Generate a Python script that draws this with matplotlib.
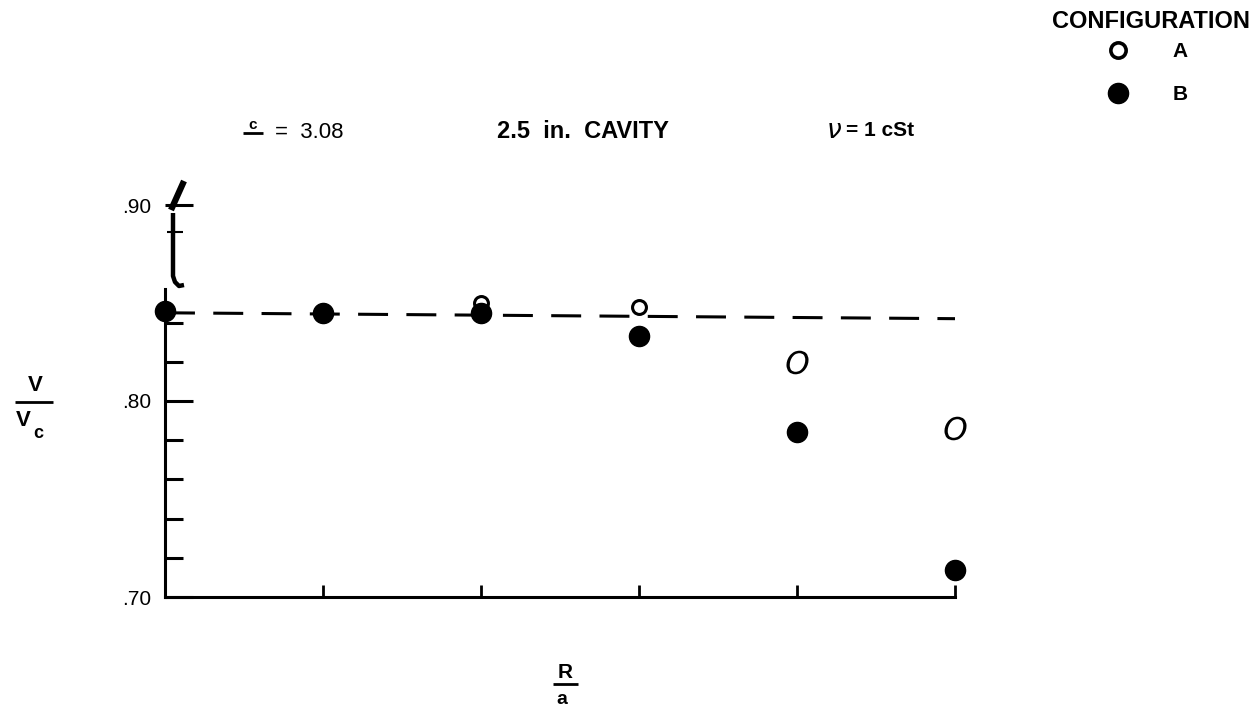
import numpy as np
import matplotlib.pyplot as plt
from matplotlib.lines import Line2D

plt.rcParams['font.family'] = ['Liberation Sans', 'DejaVu Sans']

# R/a stations (tick positions only, no labels on the original)
x_pos = [0, 1, 2, 3, 4, 5]
# V/Vc
config_a = [np.nan, np.nan, 0.850, 0.848, 0.820, 0.786]
config_b = [0.846, 0.845, 0.845, 0.833, 0.784, 0.714]
# dashed reference line
fit_x = [0, 5]
fit_y = [0.845, 0.842]

ytick_vals = [0.70, 0.80, 0.90]
ytick_labels = ['.70', '.80', '.90']
yminor_vals = [0.72, 0.74, 0.76, 0.78, 0.82, 0.84]

W, H = 1260, 710


def fx(px):
    return px / W


def fy(py):
    return 1 - py / H


fig = plt.figure(figsize=(12.6, 7.1), dpi=100)
ax = fig.add_axes([fx(165), fy(597), 790 / W, 392 / H])
ax.set_xlim(0, 5)
ax.set_ylim(0.70, 0.90)

ax.plot(fit_x, fit_y, color='black', lw=2.2, linestyle=(0, (9.8, 6)), clip_on=False, zorder=2)
ax.plot(x_pos[2:4], config_a[2:4], 'o', ms=10, mfc='white', mec='black', mew=2.2,
        clip_on=False, zorder=3)
# the last two A points are hand-drawn italic O's
ax.plot(x_pos[4:], config_a[4:], ls='none', marker=r'$\mathit{O}$', ms=17, mew=0,
        color='black', clip_on=False, zorder=3)
ax.plot(x_pos, config_b, 'o', ms=14.5, color='black', clip_on=False, zorder=4)

for s in ['top', 'right']:
    ax.spines[s].set_visible(False)
ax.spines['left'].set_bounds(0.70, 0.857)
ax.spines['left'].set_linewidth(2.2)
ax.spines['bottom'].set_linewidth(2.2)

ax.set_xticks(x_pos)
ax.tick_params(axis='x', direction='in', length=9, width=2, labelbottom=False)
ax.set_yticks(ytick_vals)
ax.set_yticklabels(ytick_labels)
ax.set_yticks(yminor_vals, minor=True)
ax.tick_params(axis='y', which='major', direction='in', length=20, width=2.2, labelsize=15, pad=10)
ax.tick_params(axis='y', which='minor', direction='in', length=13, width=2.2)


def fig_line(pts, lw):
    xs = [fx(p[0]) for p in pts]
    ys = [fy(p[1]) for p in pts]
    fig.add_artist(Line2D(xs, ys, color='black', lw=lw, solid_capstyle='butt'))


# axis break symbol above the spine
fig_line([(173, 213), (173, 276), (175, 282), (179, 286), (184, 285)], 3.2)
fig_line([(167, 232), (183, 232)], 1.5)
fig_line([(171, 210), (184, 181)], 4.5)

# header texts
fig.text(fx(253), fy(125), 'c', ha='center', va='center', fontsize=11, fontweight='bold')
fig_line([(243, 133), (263, 133)], 2)
fig.text(fx(275), fy(132), '=  3.08', ha='left', va='center', fontsize=16)
fig.text(fx(497), fy(131), '2.5  in.  CAVITY', ha='left', va='center', fontsize=17,
         fontweight='bold')
fig.text(fx(826), fy(131), r'$\nu$', ha='left', va='center', fontsize=19)
fig.text(fx(846), fy(131), '= 1 cSt', ha='left', va='center', fontsize=15, fontweight='bold')

# y label V / Vc
fig.text(fx(35), fy(385), 'V', ha='center', va='center', fontsize=16, fontweight='bold')
fig_line([(15, 402), (53, 402)], 2)
fig.text(fx(23), fy(420), 'V', ha='center', va='center', fontsize=16, fontweight='bold')
fig.text(fx(38), fy(433), 'c', ha='center', va='center', fontsize=13, fontweight='bold')

# x label R / a
fig.text(fx(565), fy(672), 'R', ha='center', va='center', fontsize=15, fontweight='bold')
fig_line([(553, 684), (578, 684)], 2)
fig.text(fx(562), fy(699), 'a', ha='center', va='center', fontsize=14, fontweight='bold')

# legend
fig.text(fx(1151), fy(22), 'CONFIGURATION', ha='center', va='center', fontsize=17,
         fontweight='bold')
handles = [
    Line2D([], [], ls='none', marker='o', ms=11, mfc='white', mec='black', mew=2.6),
    Line2D([], [], ls='none', marker='o', ms=14.5, color='black'),
]
fig.legend(handles, ['A', 'B'], loc='upper right',
           bbox_to_anchor=(fx(1188), fy(42)), frameon=False,
           prop={'size': 15, 'weight': 'bold'},
           labelspacing=1.15, handletextpad=1.65, borderpad=0, borderaxespad=0)

fig.savefig('out.png', dpi=100)
